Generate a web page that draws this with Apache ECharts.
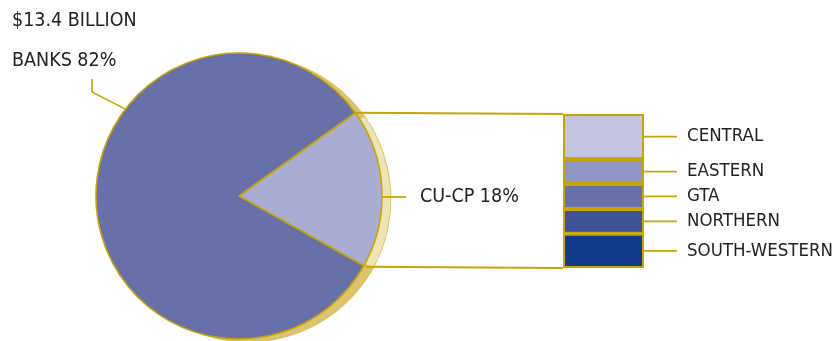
<!DOCTYPE html>
<html><head><meta charset="utf-8">
<script src="https://cdn.jsdelivr.net/npm/echarts@6/dist/echarts.min.js"></script>
<style>html,body{margin:0;padding:0;background:#fff}#c{width:835px;height:341px}</style>
</head><body><div id="c"></div>
<script>
// ---- data ----
const titleText = '$13.4 BILLION';
const pieNames = ['CU-CP', 'BANKS'];
const pieValues = [18, 82];
const regionNames = ['CENTRAL', 'EASTERN', 'GTA', 'NORTHERN', 'SOUTH-WESTERN'];
const regionValues = [29, 16, 16, 16, 22];

// ---- styles ----
const GOLD = '#c8a500';
const FONT = '"DejaVu Sans Condensed", "DejaVu Sans", sans-serif';
const TEXT = '#222222';
const pieColors = ['#a9add4', '#6870aa'];
const shadowColors = ['#efe3b4', '#dcc46c'];
const regionColors = ['#c3c5e0', '#9296c4', '#6870aa', '#3f5199', '#123a8a'];
const cx = 239, cy = 196, R = 143, startAngle = 35.6, sdx = 9, sdy = 3;
const total = regionValues.reduce((a, b) => a + b, 0);
const pieTotal = pieValues.reduce((a, b) => a + b, 0);

const chart = echarts.init(document.getElementById('c'));

const barSeries = regionNames.map((n, i) => ({
  type: 'bar', name: n, stack: 'r', data: [regionValues[i]], barWidth: '100%',
  silent: true, z: 5,
  itemStyle: { color: regionColors[i], borderColor: GOLD, borderWidth: 2 },
  label: { show: true, position: 'right', distance: 43, formatter: n, color: TEXT, fontFamily: FONT, fontSize: 18.5 }
}));

const pieData = (colors) => pieNames.map((n, i) => ({ name: n, value: pieValues[i], itemStyle: { color: colors[i] } }));

chart.setOption({
  animation: false,
  grid: { left: 563, top: 114, width: 81, height: 154 },
  xAxis: { type: 'category', data: [''], show: false },
  yAxis: { type: 'value', min: 0, max: total, inverse: true, show: false },
  series: [
    { type: 'pie', center: [cx + sdx, cy + sdy], radius: R, startAngle: startAngle, silent: true, z: 1,
      label: { show: false }, labelLine: { show: false },
      itemStyle: { borderColor: '#d2b84a', borderWidth: 0.8 },
      data: pieData(shadowColors) },
    { type: 'pie', center: [cx, cy], radius: R, startAngle: startAngle, silent: true, z: 2,
      label: { show: false }, labelLine: { show: false },
      itemStyle: { borderColor: GOLD, borderWidth: 1.6 },
      data: pieData(pieColors) }
  ].concat(barSeries)
});

// connector lines computed from data + library scales
const a0 = startAngle * Math.PI / 180;
const a1 = (startAngle - 360 * pieValues[0] / pieTotal) * Math.PI / 180;
const pTop = [cx + R * Math.cos(a0), cy - R * Math.sin(a0)];
const pBot = [cx + R * Math.cos(a1), cy - R * Math.sin(a1)];
const barTL = chart.convertToPixel({ gridIndex: 0 }, ['', 0]);
const barBL = chart.convertToPixel({ gridIndex: 0 }, ['', total]);
const barLeft = 563, barRight = 644;
const lineStyle = { stroke: GOLD, lineWidth: 1.8 };
const g = [];
g.push({ type: 'line', shape: { x1: pTop[0], y1: pTop[1], x2: barLeft, y2: barTL[1] }, style: lineStyle, z: 3 });
g.push({ type: 'line', shape: { x1: pBot[0] + 2, y1: pBot[1] + 1, x2: barLeft, y2: barBL[1] }, style: lineStyle, z: 3 });
let acc = 0;
regionValues.forEach((v, i) => {
  const mid = chart.convertToPixel({ gridIndex: 0 }, ['', acc + v / 2]);
  acc += v;
  g.push({ type: 'line', shape: { x1: barRight, y1: mid[1], x2: 677, y2: mid[1] }, style: lineStyle, z: 3 });
});
// pie labels
g.push({ type: 'line', shape: { x1: cx + R, y1: cy + 1, x2: 406, y2: cy + 1 }, style: lineStyle, z: 3 });
g.push({ type: 'text', x: 420, y: cy + 1, style: { text: pieNames[0] + ' ' + pieValues[0] + '%', fill: TEXT, font: '19.5px ' + FONT, verticalAlign: 'middle' }, z: 4 });
const ab = 142.6 * Math.PI / 180;
const bEdge = [cx + R * Math.cos(ab), cy - R * Math.sin(ab)];
g.push({ type: 'polyline', shape: { points: [[92, 79], [92, 92], bEdge] }, style: { stroke: GOLD, lineWidth: 1.6, fill: null }, z: 3 });
g.push({ type: 'text', x: 12, y: 61, style: { text: pieNames[1] + ' ' + pieValues[1] + '%', fill: TEXT, font: '19.5px ' + FONT, verticalAlign: 'middle' }, z: 4 });
g.push({ type: 'text', x: 12, y: 21, style: { text: titleText, fill: TEXT, font: '19.5px ' + FONT, verticalAlign: 'middle' }, z: 4 });
chart.setOption({ graphic: g });
</script>
</body></html>
